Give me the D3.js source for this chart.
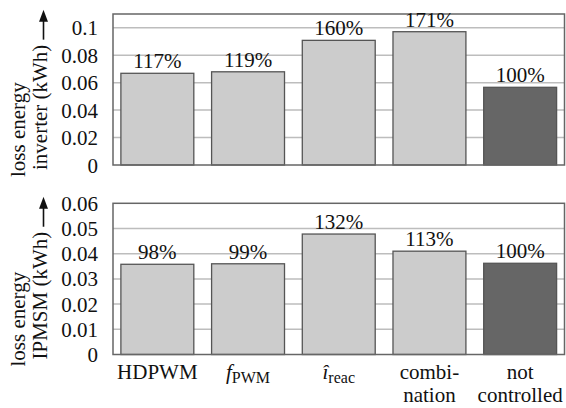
<!DOCTYPE html>
<html><head><meta charset="utf-8">
<script src="https://cdn.jsdelivr.net/npm/d3@7"></script>
<style>body{margin:0;background:#fff}svg{display:block}</style>
</head><body><svg id="c" width="566" height="408" font-family="'Liberation Serif', 'Times New Roman', Tinos, serif"></svg>
<script>
const categories = ["HDPWM", "fPWM", "ireac", "combination", "not controlled"];
const inverterLoss = [0.0668, 0.0679, 0.0908, 0.0971, 0.0566];
const ipmsmLoss = [0.0358, 0.0360, 0.0478, 0.0410, 0.0362];
const inverterPct = ["117%", "119%", "160%", "171%", "100%"];
const ipmsmPct = ["98%", "99%", "132%", "113%", "100%"];
const inverterTicks = [0, 0.02, 0.04, 0.06, 0.08, 0.1];
const ipmsmTicks = [0, 0.01, 0.02, 0.03, 0.04, 0.05, 0.06];

const FS = 21;
const svg = d3.select("#c");
const L = 113, R = 564.5;
const x = d3.scaleBand().domain(categories).range([L, R]).paddingInner(0.196).paddingOuter(0.087);

function panel(top, bottom, maxV, values, pcts, ticks, line2) {
  const y = d3.scaleLinear().domain([0, maxV]).range([bottom, top]);
  const g = svg.append("g");
  g.selectAll("line.grid").data(ticks.filter(t => t > 0 && y(t) > top + 1)).join("line")
    .attr("x1", L).attr("x2", R).attr("y1", d => y(d)).attr("y2", d => y(d))
    .attr("stroke", "#bdbdbd").attr("stroke-width", 1.5);
  g.selectAll("rect").data(values).join("rect")
    .attr("x", (d, i) => x(categories[i])).attr("width", x.bandwidth())
    .attr("y", d => y(d)).attr("height", d => bottom - y(d))
    .attr("fill", (d, i) => i === 4 ? "#666666" : "#cccccc")
    .attr("stroke", "#555").attr("stroke-width", 1.3);
  g.append("rect").attr("x", L).attr("y", top).attr("width", R - L).attr("height", bottom - top)
    .attr("fill", "none").attr("stroke", "#666").attr("stroke-width", 1.5);
  g.selectAll("text.pct").data(values).join("text").attr("class", "pct")
    .attr("x", (d, i) => x(categories[i]) + x.bandwidth() / 2).attr("y", d => y(d) - 5)
    .attr("text-anchor", "middle").attr("font-size", FS).attr("fill", "#111").text((d, i) => pcts[i]);
  g.selectAll("text.tick").data(ticks).join("text").attr("class", "tick")
    .attr("x", 98).attr("y", d => y(d)).attr("dy", "0.36em").attr("text-anchor", "end")
    .attr("font-size", FS).attr("fill", "#111").text(d => d === 0 ? "0" : String(+d.toFixed(2)));
  g.append("text").attr("transform", `translate(25,${bottom + 12}) rotate(-90)`)
    .attr("font-size", FS).attr("fill", "#111").text("loss energy");
  const t2 = g.append("text").attr("transform", `translate(47,${bottom + 5}) rotate(-90)`)
    .attr("font-size", FS).attr("fill", "#111").text(line2);
  const len = t2.node().getComputedTextLength();
  const yStart = bottom + 5 - len - 5, yTip = yStart - 30, ax = 43.5;
  g.append("line").attr("x1", ax).attr("x2", ax).attr("y1", yStart).attr("y2", yTip + 8)
    .attr("stroke", "#111").attr("stroke-width", 1.6);
  g.append("path").attr("d", `M${ax},${yTip} L${ax - 4.5},${yTip + 12} L${ax + 4.5},${yTip + 12} Z`).attr("fill", "#111");
}

panel(14, 165, 0.11, inverterLoss, inverterPct, inverterTicks, "inverter (kWh)");
panel(203.3, 354.5, 0.06, ipmsmLoss, ipmsmPct, ipmsmTicks, "IPMSM (kWh)");

const cx = i => x(categories[i]) + x.bandwidth() / 2;
function lbl(i, yy, s) {
  return svg.append("text").attr("x", cx(i)).attr("y", yy).attr("text-anchor", "middle")
    .attr("font-size", FS).attr("fill", "#111").text(s || null);
}
lbl(0, 378.5, "HDPWM");
const f = lbl(1, 378.5);
f.append("tspan").attr("font-style", "italic").text("f");
f.append("tspan").attr("font-size", 16).attr("dy", 4).text("PWM");
const ir = lbl(2, 378.5);
ir.append("tspan").attr("font-style", "italic").text("\u00EE");
ir.append("tspan").attr("font-size", 16).attr("dy", 4).text("reac");
lbl(3, 378.5, "combi-");
lbl(3, 402, "nation");
lbl(4, 378.5, "not");
lbl(4, 402, "controlled");
</script></body></html>
